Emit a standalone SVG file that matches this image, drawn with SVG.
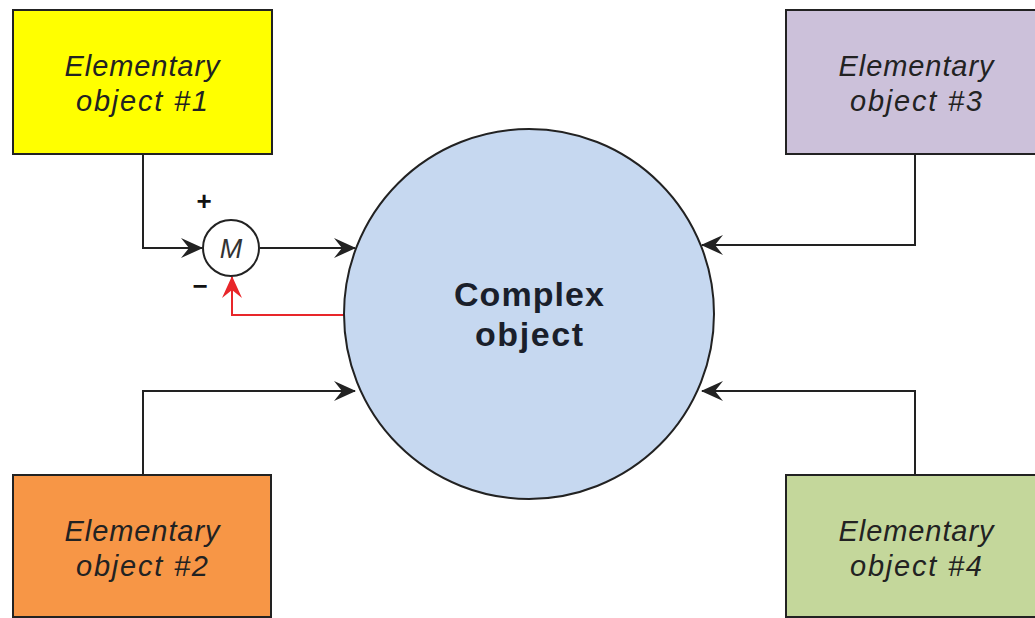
<svg xmlns="http://www.w3.org/2000/svg" width="1035" height="618" viewBox="0 0 1035 618">
<style>
.box{stroke:#222;stroke-width:2}
.lbl{font-family:"Liberation Sans",Arial,sans-serif;font-style:italic;font-size:29px;fill:#222;text-anchor:middle}
.big{font-family:"Liberation Sans",Arial,sans-serif;font-weight:bold;font-size:34px;fill:#1a1f2b;text-anchor:middle}
.conn{fill:none;stroke:#222;stroke-width:2}
.red{fill:none;stroke:#e8262a;stroke-width:2}
.sign{font-family:"Liberation Sans",Arial,sans-serif;font-weight:bold;font-size:26px;fill:#111;text-anchor:middle}
</style>
<defs>
<marker id="ah" viewBox="0 0 22 20" refX="21" refY="10" markerWidth="22" markerHeight="20" markerUnits="userSpaceOnUse" orient="auto">
<path d="M0,0 L22,10 L0,20 L8,10 z" fill="#222"/>
</marker>
<marker id="ahr" viewBox="0 0 22 20" refX="21" refY="10" markerWidth="22" markerHeight="20" markerUnits="userSpaceOnUse" orient="auto">
<path d="M0,0 L22,10 L0,20 L8,10 z" fill="#e8262a"/>
</marker>
</defs>
<rect width="1035" height="618" fill="#fff"/>
<g id="connectors">
<path class="conn" d="M143,154 V248 H202" marker-end="url(#ah)"/>
<path class="conn" d="M260,248 H355" marker-end="url(#ah)"/>
<path class="red" d="M345,315 H232 V277" marker-end="url(#ahr)"/>
<path class="conn" d="M143,475 V391 H355" marker-end="url(#ah)"/>
<path class="conn" d="M915,154 V245 H702" marker-end="url(#ah)"/>
<path class="conn" d="M915,475 V391 H702" marker-end="url(#ah)"/>
</g>
<g id="node-complex">
<circle cx="529" cy="314" r="185" fill="#c6d8f0" stroke="#222" stroke-width="2"/>
<text class="big" x="529" y="306" textLength="150" lengthAdjust="spacing">Complex</text>
<text class="big" x="529" y="346" textLength="108" lengthAdjust="spacing">object</text>
</g>
<g id="node-m">
<circle cx="231" cy="248" r="28" fill="#fff" stroke="#222" stroke-width="2"/>
<text x="231" y="258" font-family="Liberation Sans,Arial,sans-serif" font-style="italic" font-size="27" fill="#333" text-anchor="middle">M</text>
<text class="sign" x="204" y="210">+</text>
<text class="sign" x="200" y="295">−</text>
</g>
<g id="node-1">
<rect class="box" x="13" y="10" width="259" height="144" fill="#ffff00"/>
<text class="lbl" x="142" y="76" textLength="155" lengthAdjust="spacing">Elementary</text>
<text class="lbl" x="142" y="111" textLength="132" lengthAdjust="spacing">object #1</text>
</g>
<g id="node-2">
<rect class="box" x="13" y="475" width="258" height="142" fill="#f79646"/>
<text class="lbl" x="142" y="541" textLength="155" lengthAdjust="spacing">Elementary</text>
<text class="lbl" x="142" y="576" textLength="132" lengthAdjust="spacing">object #2</text>
</g>
<g id="node-3">
<rect class="box" x="786" y="10" width="262" height="144" fill="#ccc1da"/>
<text class="lbl" x="916" y="76" textLength="155" lengthAdjust="spacing">Elementary</text>
<text class="lbl" x="916" y="111" textLength="132" lengthAdjust="spacing">object #3</text>
</g>
<g id="node-4">
<rect class="box" x="786" y="475" width="262" height="142" fill="#c4d79b"/>
<text class="lbl" x="916" y="541" textLength="155" lengthAdjust="spacing">Elementary</text>
<text class="lbl" x="916" y="576" textLength="132" lengthAdjust="spacing">object #4</text>
</g>
</svg>
